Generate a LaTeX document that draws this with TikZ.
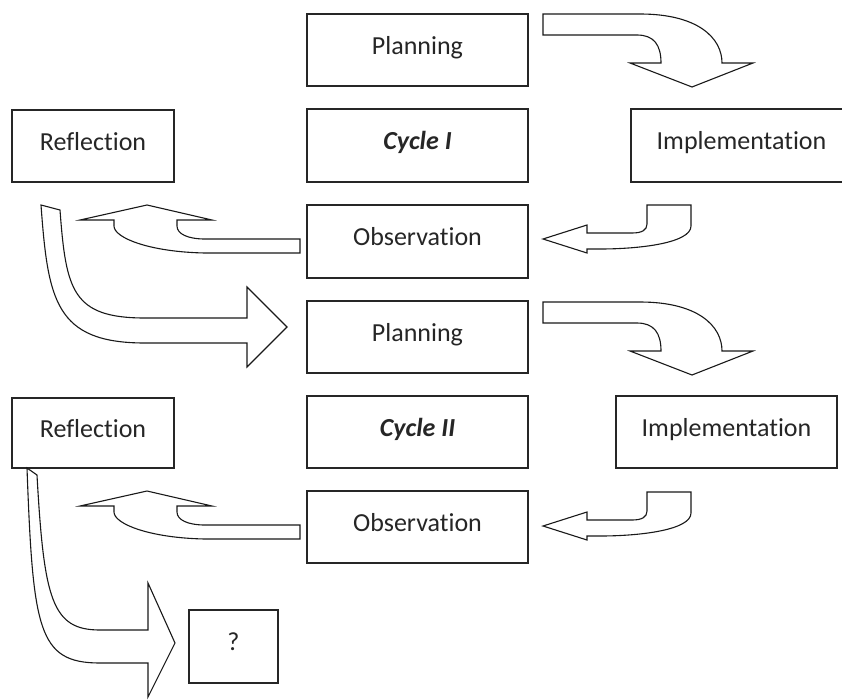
\documentclass[tikz,border=0pt]{standalone}
\usepackage{fontspec}
\setmainfont{Carlito}[Ligatures={NoCommon}]
\begin{document}
\begin{tikzpicture}[x=1pt,y=-1pt,
  box/.style={draw=black!85, line width=1.4pt, fill=white, inner sep=0pt,
    minimum width=221pt, minimum height=72pt, text height=17pt, text depth=9pt,
    text=black!85, font=\fontsize{26}{30}\selectfont},
  blockarrow/.style={draw=black!90, line width=1.1pt, fill=white, line join=miter},
  bentdown/.pic={\draw[blockarrow] (543,14) -- (640,14) .. controls (698,14) and (722,38) .. (722,63) -- (753,63) -- (692,87) -- (630,63) -- (661,63) .. controls (661,45) and (654,35) .. (637,35) -- (543,35) -- cycle;},
  hookleft/.pic={\draw[blockarrow] (647,205) -- (691,205) -- (691,226) .. controls (691,243) and (640,249) .. (600,249) -- (587,249) -- (587,253) -- (543,239) -- (587,225) -- (587,233) -- (632,233) .. controls (642,233) and (647,230) .. (647,224) -- cycle;},
  bentup/.pic={\draw[blockarrow] (300,239) -- (300,253) -- (205,253) .. controls (150,252) and (114,238) .. (114,226) -- (114,220) -- (80,220) -- (147,205) -- (212,220) -- (177,220) -- (177,226) .. controls (177,234) and (188,239) .. (205,239) -- cycle;}
]
\useasboundingbox (0,0) rectangle (842,699);
\clip (0,0) rectangle (842,699);
\fill[white] (0,0) rectangle (842,699);

% Cycle I
\node[box] (p1) at (417.5,50) {Planning};
\node[box, minimum height=73pt] (c1) at (417.5,145.5) {\textbf{\textit{Cycle I}}};
\node[box, minimum height=73pt] (o1) at (417.5,241.5) {Observation};
\node[box, minimum width=162pt] (r1) at (93,146) {Reflection};
\node[box, minimum height=73pt] (i1) at (741.5,145.5) {Implementation};

% Cycle II
\node[box] (p2) at (417.5,337) {Planning};
\node[box] (c2) at (417.5,432) {\textbf{\textit{Cycle II}}};
\node[box] (o2) at (417.5,527) {Observation};
\node[box, minimum width=162pt, minimum height=70pt] (r2) at (93,433) {Reflection};
\node[box] (i2) at (726.5,432) {Implementation};

\node[box, minimum width=89pt, minimum height=73pt] (q) at (233.5,646.5) {?};

% block arrows
\pic at (0,0) {bentdown};
\pic at (0,288) {bentdown};
\pic at (0,0) {hookleft};
\pic at (0,287) {hookleft};
\pic at (0,0) {bentup};
\pic at (0,286) {bentup};

\draw[blockarrow] (41,205) -- (60,210) .. controls (66,290) and (72,318) .. (145,318) -- (247,318) -- (247,287) -- (287,327) -- (247,367) -- (247,343) -- (145,343) .. controls (55,343) and (48,300) .. (41,205) -- cycle;

\draw[blockarrow] (27,468) -- (37,475) .. controls (44,600) and (52,630) .. (100,630) -- (148,630) -- (148,583) -- (175,643) -- (148,697) -- (148,663) -- (100,663) .. controls (38,663) and (33,630) .. (27,468) -- cycle;
\end{tikzpicture}
\end{document}
